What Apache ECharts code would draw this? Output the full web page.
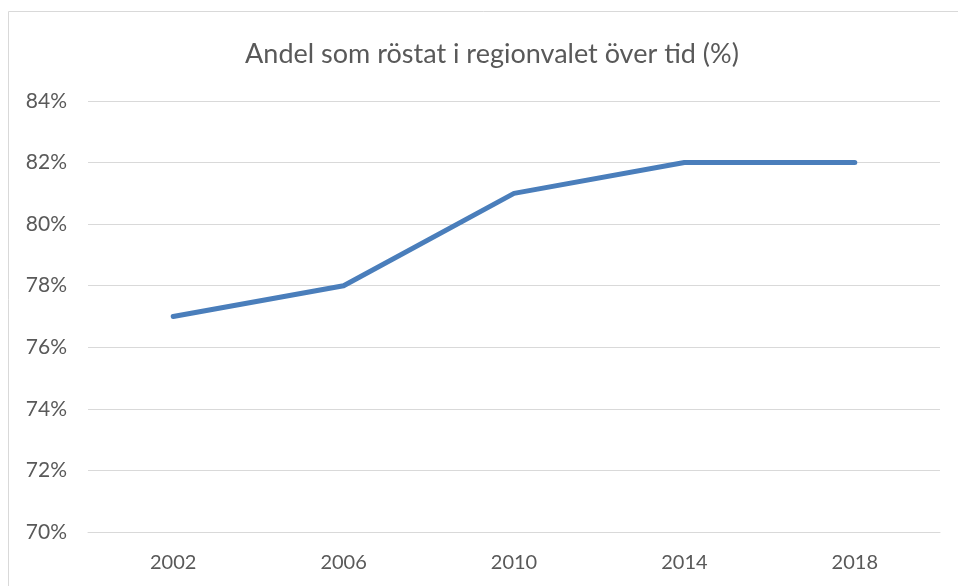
<!DOCTYPE html>
<html><head><meta charset="utf-8">
<script src="https://cdn.jsdelivr.net/npm/echarts@6/dist/echarts.min.js"></script>
<style>html,body{margin:0;padding:0;background:#fff}#c{width:958px;height:586px}</style>
</head><body><div id="c"></div>
<script>
const titleText = 'Andel som röstat i regionvalet över tid (%)';
const years = ['2002', '2006', '2010', '2014', '2018'];
const turnout = [77, 78, 81, 82, 82];
const yMin = 70, yMax = 84, yStep = 2;

const chart = echarts.init(document.getElementById('c'));
const font = 'Lato, "Open Sans", sans-serif';
chart.setOption({
  animation: false,
  graphic: [{
    type: 'rect', shape: {x: 8.5, y: 11.5, width: 1200, height: 1200},
    style: {fill: 'none', stroke: '#d9d9d9', lineWidth: 1}, silent: true
  }],
  title: {
    text: titleText, left: 487, top: 36, textAlign: 'center',
    textStyle: {fontFamily: font, fontSize: 27, fontWeight: 'normal', color: '#595959'}
  },
  grid: {left: 88, right: 18, top: 101, bottom: 54, containLabel: false},
  xAxis: {
    type: 'category', data: years, boundaryGap: true,
    axisLine: {show: true, lineStyle: {color: '#d9d9d9', width: 1}},
    axisTick: {show: false},
    axisLabel: {fontFamily: font, fontSize: 20, color: '#595959', margin: 21}
  },
  yAxis: {
    type: 'value', min: yMin, max: yMax, interval: yStep,
    axisLine: {show: false}, axisTick: {show: false},
    splitLine: {lineStyle: {color: '#d9d9d9', width: 1}},
    axisLabel: {fontFamily: font, fontSize: 21, color: '#595959', margin: 21, formatter: '{value}%'}
  },
  series: [{
    type: 'line', data: turnout, symbol: 'none',
    lineStyle: {color: '#4a7ebb', width: 5, cap: 'round', join: 'round'}
  }]
});
</script></body></html>
